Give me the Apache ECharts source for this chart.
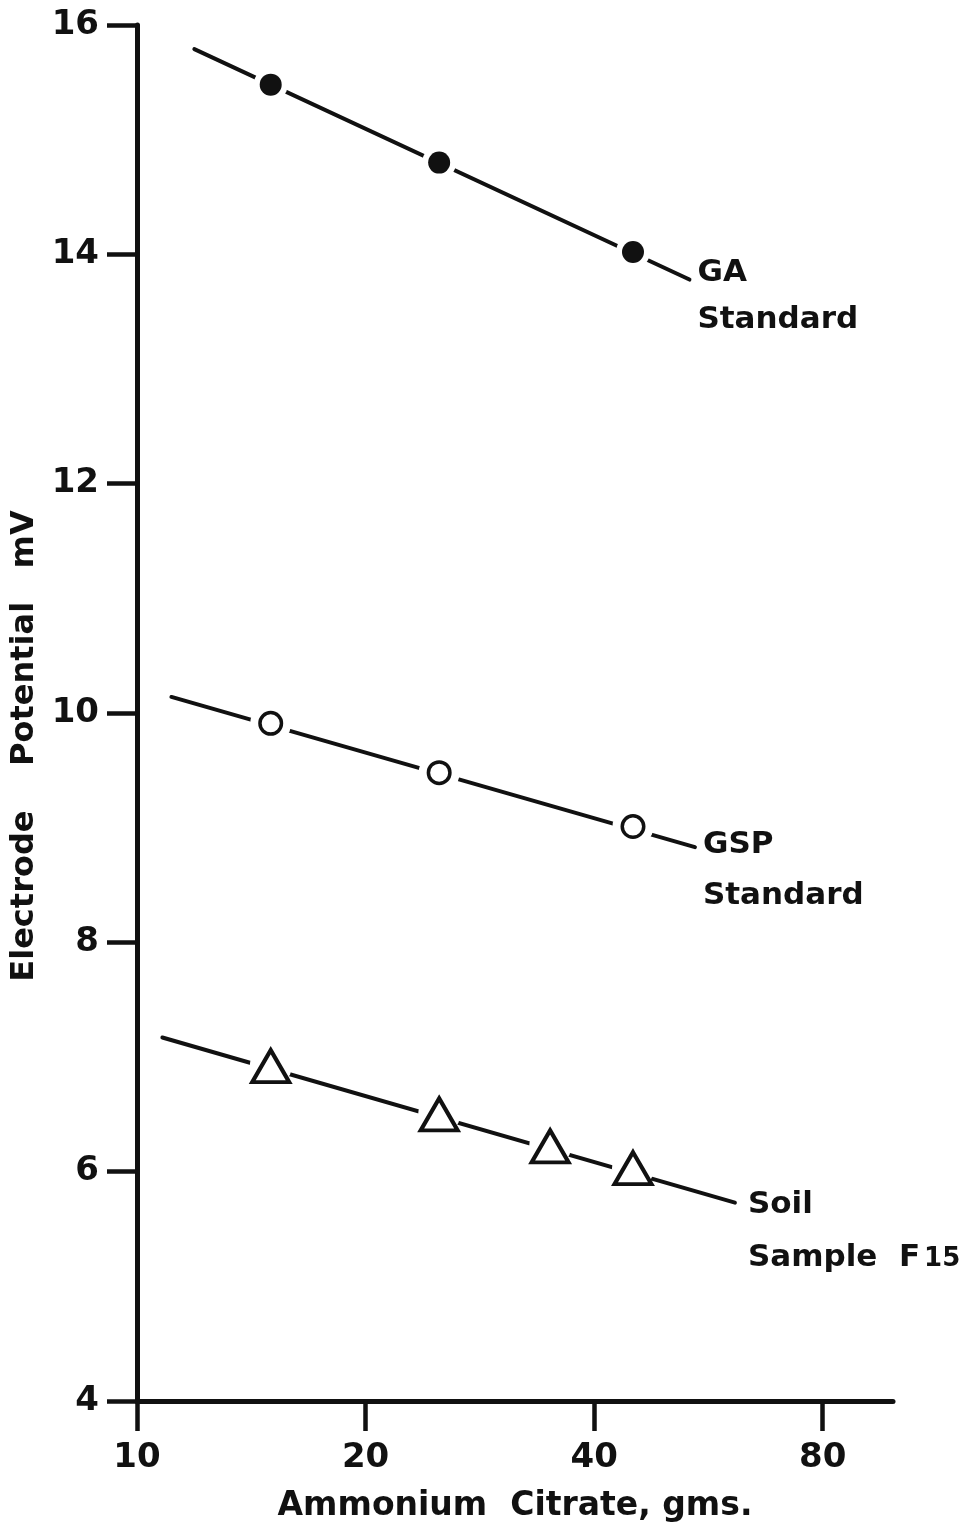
<!DOCTYPE html>
<html>
<head>
<meta charset="utf-8">
<title>Electrode Potential vs Ammonium Citrate</title>
<script src="https://cdn.jsdelivr.net/npm/echarts@6/dist/echarts.min.js"></script>
<style>
  html, body { margin: 0; padding: 0; background: #fff; }
  #chart { width: 980px; height: 1532px; }
</style>
</head>
<body>
<div id="chart"></div>
<script>
// axis ticks (x is a doubling / log scale)
const xTicks = [10, 20, 40, 80];
const yTicks = [4, 6, 8, 10, 12, 14, 16];
const xAxisEnd = 99;

// measured points
const gaCitrate = [15, 25, 45];
const gaPotential = [15.48, 14.80, 14.02];
const gspCitrate = [15, 25, 45];
const gspPotential = [9.91, 9.48, 9.01];
const soilCitrate = [15, 25, 35, 45];
const soilPotential = [6.92, 6.50, 6.22, 6.03];

// drawn lines, start and end
const gaFitCitrate = [11.9, 53.4];
const gaFitPotential = [15.79, 13.78];
const gspFitCitrate = [11.1, 54.3];
const gspFitPotential = [10.14, 8.83];
const soilFitCitrate = [10.8, 61.3];
const soilFitPotential = [7.17, 5.73];

const ink = '#111';
const font = 'DejaVu Sans';

// position on the doubling axis
const toT = v => Math.log2(v / 10);
const pairs = (xs, ys) => xs.map((x, i) => [toT(x), ys[i]]);

function fitLine(name, xs, ys, text, lineHeight, offset, rich) {
  return {
    name: name,
    type: 'line',
    data: pairs(xs, ys),
    symbol: 'none',
    silent: true,
    z: 2,
    lineStyle: { color: ink, width: 4, cap: 'round' },
    endLabel: {
      show: true,
      formatter: text,
      color: ink,
      fontFamily: font,
      fontWeight: 'bold',
      fontSize: 31,
      lineHeight: lineHeight,
      align: 'left',
      verticalAlign: 'top',
      distance: 8,
      offset: offset,
      rich: rich || {}
    }
  };
}

function mask(xs, ys, size) {
  return {
    type: 'scatter',
    data: pairs(xs, ys),
    symbol: 'circle',
    symbolSize: size,
    silent: true,
    z: 3,
    itemStyle: { color: '#fff', opacity: 1 }
  };
}

const chart = echarts.init(document.getElementById('chart'));

chart.setOption({
  animation: false,
  backgroundColor: '#fff',
  grid: { left: 137, right: 87, top: 25, bottom: 131, containLabel: false, outerBoundsMode: 'none' },
  xAxis: {
    type: 'value',
    min: 0,
    max: toT(xAxisEnd),
    interval: 1,
    name: 'Ammonium  Citrate, gms.',
    nameLocation: 'middle',
    nameGap: 89,
    nameTextStyle: { color: ink, fontFamily: font, fontWeight: 'bold', fontSize: 33 },
    splitLine: { show: false },
    axisLine: { lineStyle: { color: ink, width: 5, cap: 'round' } },
    axisTick: {
      length: 30,
      customValues: xTicks.map(toT),
      lineStyle: { color: ink, width: 4.5 }
    },
    axisLabel: {
      customValues: xTicks.map(toT),
      formatter: v => String(Math.round(10 * Math.pow(2, v))),
      margin: 40,
      color: ink,
      fontFamily: font,
      fontWeight: 'bold',
      fontSize: 34
    }
  },
  yAxis: {
    type: 'value',
    min: 4,
    max: 16,
    interval: 2,
    name: 'Electrode    Potential   mV',
    nameLocation: 'middle',
    nameGap: 91,
    nameTextStyle: { color: ink, fontFamily: font, fontWeight: 'bold', fontSize: 32, padding: [0, 66, 0, 0] },
    splitLine: { show: false },
    axisLine: { show: true, lineStyle: { color: ink, width: 5, cap: 'round' } },
    axisTick: { show: true, length: 30, lineStyle: { color: ink, width: 4.5 } },
    axisLabel: {
      customValues: yTicks,
      margin: 38,
      color: ink,
      fontFamily: font,
      fontWeight: 'bold',
      fontSize: 34
    }
  },
  series: [
    fitLine('GA Standard', gaFitCitrate, gaFitPotential, 'GA\nStandard', 47, [0, -30]),
    fitLine('GSP Standard', gspFitCitrate, gspFitPotential, 'GSP\nStandard', 51, [0, -28]),
    fitLine('Soil Sample F15', soilFitCitrate, soilFitPotential,
      'Soil\nSample  F{sub|15}', 53, [5, -24],
      { sub: { fontFamily: font, fontWeight: 'bold', fontSize: 26, color: ink, padding: [3, 0, 0, 4], verticalAlign: 'middle' } }),

    mask(gaCitrate, gaPotential, 34),
    mask(gspCitrate, gspPotential, 41),
    mask(soilCitrate, soilPotential, 42),

    {
      name: 'GA Standard',
      type: 'scatter',
      data: pairs(gaCitrate, gaPotential),
      symbol: 'circle',
      symbolSize: 22,
      z: 4,
      itemStyle: { color: ink, opacity: 1 }
    },
    {
      name: 'GSP Standard',
      type: 'scatter',
      data: pairs(gspCitrate, gspPotential),
      symbol: 'circle',
      symbolSize: 21.5,
      z: 4,
      itemStyle: { color: '#fff', borderColor: ink, borderWidth: 3.5, opacity: 1 }
    },
    {
      name: 'Soil Sample F15',
      type: 'scatter',
      data: pairs(soilCitrate, soilPotential),
      symbol: 'triangle',
      symbolSize: [37, 32],
      z: 4,
      itemStyle: { color: '#fff', borderColor: ink, borderWidth: 4, opacity: 1 }
    }
  ]
});
</script>
</body>
</html>
